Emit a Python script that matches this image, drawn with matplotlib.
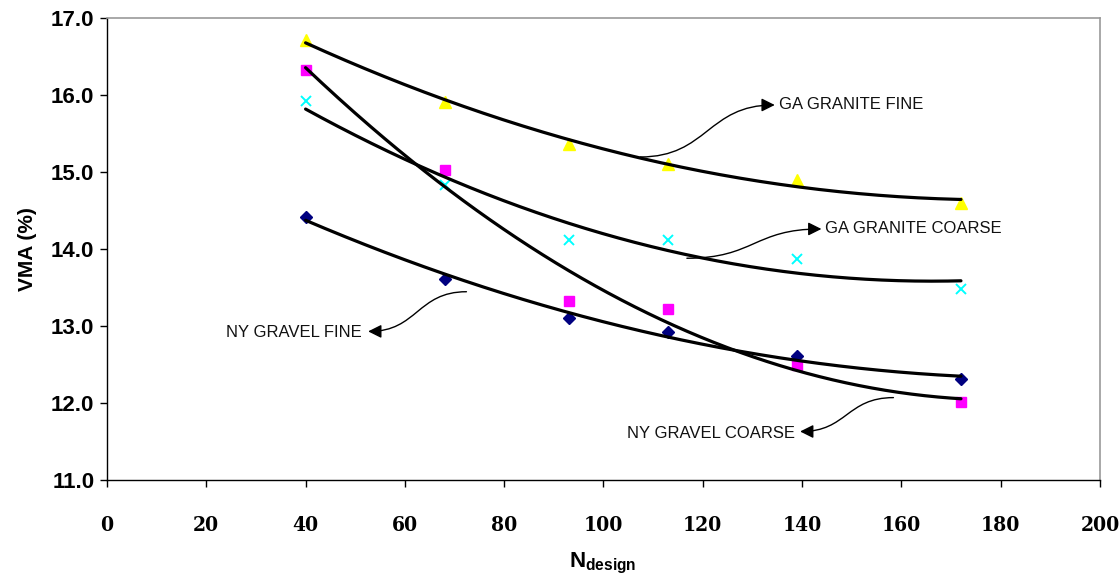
import numpy as np
import matplotlib
matplotlib.use('Agg')
import matplotlib.pyplot as plt
from matplotlib.patches import FancyArrowPatch
from matplotlib.path import Path

plt.rcParams['font.family'] = ['Liberation Sans', 'DejaVu Sans']
plt.rcParams['mathtext.fontset'] = 'custom'
plt.rcParams['mathtext.bf'] = 'Liberation Sans:bold'

n_design = [40, 68, 93, 113, 139, 172]

ga_granite_fine = [16.71, 15.91, 15.36, 15.11, 14.90, 14.60]
ga_granite_coarse = [15.92, 14.83, 14.12, 14.12, 13.87, 13.48]
ny_gravel_coarse = [16.32, 15.03, 13.32, 13.22, 12.50, 12.01]
ny_gravel_fine = [14.42, 13.61, 13.11, 12.92, 12.61, 12.31]

x_ticks = list(range(0, 201, 20))
y_ticks = [11, 12, 13, 14, 15, 16, 17]

fig = plt.figure(figsize=(11.19, 5.80), dpi=100)
ax = fig.add_axes([0.0956, 0.1724, 0.8874, 0.7966])

# measured points
ax.plot(n_design, ny_gravel_fine, linestyle='none', marker='D', ms=6,
        color='#000080', zorder=2)
ax.plot(n_design, ny_gravel_coarse, linestyle='none', marker='s', ms=7,
        color='#FF00FF', zorder=2)
ax.plot(n_design, ga_granite_fine, linestyle='none', marker='^', ms=8,
        color='#FFFF00', zorder=2)
ax.plot(n_design, ga_granite_coarse, linestyle='none', marker='x', ms=7,
        mew=1.4, color='#00FFFF', zorder=2)

# second order polynomial trend lines
xx = np.linspace(min(n_design), max(n_design), 200)
for series in (ga_granite_fine, ga_granite_coarse, ny_gravel_coarse, ny_gravel_fine):
    coef = np.polyfit(n_design, series, 2)
    ax.plot(xx, np.polyval(coef, xx), color='black', lw=2.3, zorder=3,
            solid_capstyle='round')


def curved_label(text, start, tip, text_pos, ha):
    x0, y0 = start
    x1, y1 = tip
    xm = (x0 + x1) / 2
    verts = [(x0, y0), (xm, y0), (xm, y1), (x1, y1)]
    path = Path(verts, [Path.MOVETO, Path.CURVE4, Path.CURVE4, Path.CURVE4])
    arrow = FancyArrowPatch(path=path, arrowstyle='-|>,head_length=0.8,head_width=0.4',
                            mutation_scale=10, color='black', lw=1.0, zorder=4)
    ax.add_patch(arrow)
    ax.text(text_pos[0], text_pos[1], text, ha=ha, va='center',
            fontsize=12, color='#111111')


curved_label('GA GRANITE FINE', (107.4, 15.195), (134.5, 15.87), (135.3, 15.87), 'left')
curved_label('GA GRANITE COARSE', (116.8, 13.88), (143.9, 14.26), (144.7, 14.26), 'left')
curved_label('NY GRAVEL FINE', (72.4, 13.445), (52.6, 12.93), (51.3, 12.91), 'right')
curved_label('NY GRAVEL COARSE', (158.4, 12.07), (139.6, 11.63), (138.6, 11.61), 'right')

ax.set_xlim(0, 200)
ax.set_ylim(11, 17)
ax.set_xticks(x_ticks)
ax.set_yticks(y_ticks)
ax.set_yticklabels([f'{v:.1f}' for v in y_ticks], fontsize=16, fontweight='bold')
ax.set_xticklabels([str(v) for v in x_ticks], fontsize=15, fontweight='bold',
                   family='DejaVu Serif', fontstretch='condensed')
ax.tick_params(axis='both', direction='out', length=5, width=1, color='black')
ax.tick_params(axis='x', pad=20)
ax.tick_params(axis='y', pad=4)

for side in ('left', 'bottom'):
    ax.spines[side].set_color('black')
    ax.spines[side].set_linewidth(1.0)
for side in ('top', 'right'):
    ax.spines[side].set_color('#999999')
    ax.spines[side].set_linewidth(1.2)

ax.set_ylabel('VMA (%)', fontsize=15, fontweight='bold', labelpad=10)
fig.text(0.539, 0.022, r'$\mathbf{N_{design}}$', fontsize=16,
         ha='center', va='baseline')

fig.savefig('out.png', dpi=100)
